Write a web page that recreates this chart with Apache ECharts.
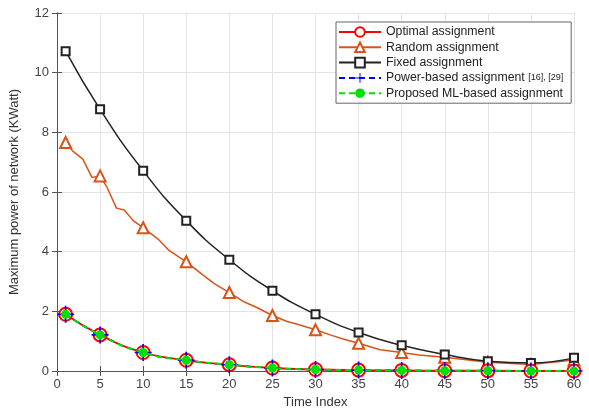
<!DOCTYPE html>
<html lang="en">
<head>
    <meta charset="UTF-8">
    <title>Maximum power of network</title>
    <style>
        body { margin: 0; background: #fff; }
        #chart { width: 589px; height: 414px; }
    </style>
    <script src="https://cdn.jsdelivr.net/npm/echarts@6/dist/echarts.min.js"></script>
</head>
<body>
    <div id="chart"></div>
    <script>
        // marker positions on the time axis
        const markerX = [1, 5, 10, 15, 20, 25, 30, 35, 40, 45, 50, 55, 60];

        // fixed assignment (black squares)
        const fixedY = [10.72, 8.77, 6.71, 5.04, 3.73, 2.69, 1.9, 1.29, 0.86, 0.55, 0.33, 0.27, 0.44];

        // random assignment, read with its wiggles
        const randomX = [1, 1.8, 3, 4.05, 5, 5.8, 6.9, 7.8, 8.85, 10, 11.7, 13, 15, 16.7, 18.25, 20, 21.7,
            23.25, 25, 26.7, 27.9, 30, 31.7, 33.6, 35, 37.5, 40, 42, 45, 50, 55, 60];
        const randomY = [7.66, 7.38, 7.1, 6.49, 6.54, 6.16, 5.46, 5.4, 5.04, 4.8, 4.43, 4.04, 3.66, 3.27, 2.93, 2.63, 2.32,
            2.12, 1.86, 1.66, 1.57, 1.38, 1.21, 1.04, 0.93, 0.71, 0.62, 0.54, 0.46, 0.29, 0.22, 0.37];

        // optimal / power-based / proposed are practically the same curve
        const optimalY = [1.9, 1.21, 0.62, 0.36, 0.21, 0.1, 0.05, 0.03, 0.02, 0.01, 0.01, 0.0, 0.0];
        const powerY = [1.9, 1.21, 0.62, 0.36, 0.21, 0.1, 0.05, 0.03, 0.02, 0.01, 0.01, 0.0, 0.0];
        const proposedY = [1.9, 1.21, 0.62, 0.36, 0.21, 0.1, 0.05, 0.03, 0.02, 0.01, 0.01, 0.0, 0.0];

        const seriesNames = ['Optimal assignment', 'Random assignment', 'Fixed assignment',
            'Power-based assignment [16], [29]', 'Proposed ML-based assignment'];

        const font = '"Liberation Sans", Arial, sans-serif';
        const axisColor = '#555';
        const plusPath = 'path://M-1,-10 H1 V-1 H10 V1 H1 V10 H-1 V1 H-10 V-1 H-1 Z';

        const pairs = (xs, ys) => xs.map((x, i) => [x, ys[i]]);
        const randomData = randomX.map((x, i) => markerX.includes(x)
            ? [x, randomY[i]]
            : { value: [x, randomY[i]], symbol: 'none' });

        const chart = echarts.init(document.getElementById('chart'));

        const sideAxis = {
            min: 0,
            axisLine: { show: true, lineStyle: { color: axisColor } },
            axisTick: { inside: true, length: 5, lineStyle: { color: axisColor } },
            axisLabel: { show: false },
            splitLine: { show: false }
        };

        chart.setOption({
            animation: false,
            textStyle: { fontFamily: font },
            grid: { left: 55, right: 15, top: 13, bottom: 41 },
            legend: {
                orient: 'vertical',
                left: 336,
                top: 22,
                padding: [4, 8, 4, 2],
                itemWidth: 42,
                itemHeight: 12,
                itemGap: 3.3,
                backgroundColor: '#fff',
                borderColor: '#666',
                borderWidth: 1,
                data: seriesNames,
                textStyle: {
                    fontSize: 12.3,
                    color: '#222',
                    rich: { s: { fontSize: 9, color: '#222' } }
                },
                formatter: name => name.replace('[16], [29]', '{s|[16], [29]}')
            },
            xAxis: [{
                type: 'value',
                min: 0,
                max: 60,
                interval: 5,
                name: 'Time Index',
                nameLocation: 'middle',
                nameGap: 25,
                nameTextStyle: { fontSize: 13, color: '#333' },
                axisLine: { lineStyle: { color: axisColor } },
                axisTick: { inside: true, length: 5, lineStyle: { color: axisColor } },
                axisLabel: { fontSize: 13, color: '#444', margin: 7 },
                splitLine: { show: true, lineStyle: { color: '#e4e4e4' } }
            }, Object.assign({ type: 'value', position: 'top', max: 60, interval: 5 }, sideAxis)],
            yAxis: [{
                type: 'value',
                min: 0,
                max: 12,
                interval: 2,
                name: 'Maximum power of network (KWatt)',
                nameLocation: 'middle',
                nameGap: 36,
                nameTextStyle: { fontSize: 13, color: '#333' },
                axisLine: { show: true, lineStyle: { color: axisColor } },
                axisTick: { show: true, inside: true, length: 5, lineStyle: { color: axisColor } },
                axisLabel: { fontSize: 13, color: '#444', margin: 8 },
                splitLine: { show: true, lineStyle: { color: '#e4e4e4' } }
            }, Object.assign({ type: 'value', position: 'right', max: 12, interval: 2 }, sideAxis)],
            series: [{
                name: seriesNames[0],
                type: 'line',
                smooth: true,
                z: 3,
                data: pairs(markerX, optimalY),
                symbol: 'emptyCircle',
                symbolSize: 13,
                color: '#ff0000',
                lineStyle: { color: '#ff0000', width: 1.8 },
                itemStyle: { color: '#ff0000', borderWidth: 1.5 }
            }, {
                name: seriesNames[1],
                type: 'line',
                z: 2,
                data: randomData,
                showAllSymbol: true,
                symbol: 'emptyTriangle',
                symbolSize: 11,
                color: '#d95319',
                lineStyle: { color: '#d95319', width: 1.5 },
                itemStyle: { color: '#d95319', borderWidth: 1 }
            }, {
                name: seriesNames[2],
                type: 'line',
                smooth: true,
                z: 2,
                data: pairs(markerX, fixedY),
                symbol: 'emptyRect',
                symbolSize: 8,
                color: '#222',
                lineStyle: { color: '#222', width: 1.5 },
                itemStyle: { color: '#222', borderWidth: 1 }
            }, {
                name: seriesNames[3],
                type: 'line',
                smooth: true,
                z: 4,
                data: pairs(markerX, powerY),
                symbol: plusPath,
                symbolSize: 17,
                color: '#0000ff',
                lineStyle: { color: '#0000ff', width: 1.5, type: [6, 4] },
                itemStyle: { color: '#0000ff' }
            }, {
                name: seriesNames[4],
                type: 'line',
                smooth: true,
                z: 5,
                data: pairs(markerX, proposedY),
                symbol: 'circle',
                symbolSize: 9,
                color: '#00e000',
                lineStyle: { color: '#00e000', width: 2, type: [6, 4] },
                itemStyle: { color: '#00e000' }
            }]
        });
    </script>
</body>
</html>
